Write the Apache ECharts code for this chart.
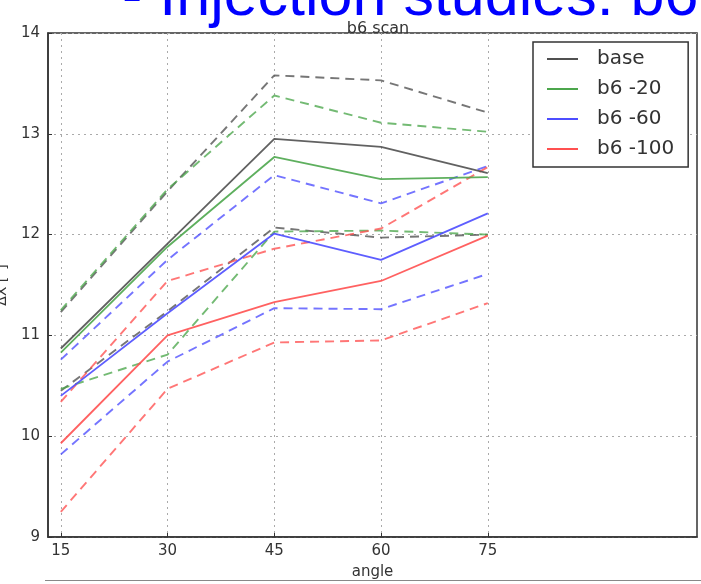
<!DOCTYPE html>
<html>
<head>
<meta charset="utf-8">
<script src="https://cdn.jsdelivr.net/npm/echarts@6/dist/echarts.min.js"></script>
<style>
html,body{margin:0;padding:0;background:#fff;}
#chart{width:701px;height:584px;}
</style>
</head>
<body>
<div id="chart"></div>
<script>
// ---- data ----
var angles = [15, 30, 45, 60, 75];
var xTicks = [15, 30, 45, 60, 75];
var yTicks = [9, 10, 11, 12, 13, 14];
var legendNames = ['base', 'b6 -20', 'b6 -60', 'b6 -100'];

var baseMid  = [10.87, 11.91, 12.95, 12.87, 12.61];
var baseHigh = [11.23, 12.43, 13.58, 13.53, 13.21];
var baseLow  = [10.45, 11.24, 12.07, 11.97, 12.00];

var b20Mid   = [10.83, 11.88, 12.77, 12.55, 12.57];
var b20High  = [11.25, 12.45, 13.38, 13.11, 13.02];
var b20Low   = [10.47, 10.81, 12.03, 12.04, 12.00];

var b60Mid   = [10.40, 11.22, 12.01, 11.75, 12.21];
var b60High  = [10.76, 11.75, 12.59, 12.31, 12.68];
var b60Low   = [9.82, 10.74, 11.27, 11.26, 11.61];

var b100Mid  = [9.93, 11.00, 11.33, 11.54, 11.99];
var b100High = [10.34, 11.54, 11.86, 12.06, 12.67];
var b100Low  = [9.25, 10.47, 10.93, 10.95, 11.32];

// ---- build ----
var colors = ['#505050', '#4ca64c', '#4d4dff', '#ff5050'];
var groups = [
  [baseMid, baseHigh, baseLow],
  [b20Mid, b20High, b20Low],
  [b60Mid, b60High, b60Low],
  [b100Mid, b100High, b100Low]
];
function pairs(vals){ return angles.map(function(a,i){ return [a, vals[i]]; }); }

var series = [];
groups.forEach(function(g, gi){
  series.push({
    name: legendNames[gi], type: 'line', data: pairs(g[0]),
    symbol: 'none', showSymbol: false, z: 3,
    lineStyle: {color: colors[gi], width: 1.8, opacity: 0.9},
    itemStyle: {color: colors[gi]}
  });
});
groups.forEach(function(g, gi){
  [1,2].forEach(function(k){
    series.push({
      name: legendNames[gi] + (k===1?' hi':' lo'), type: 'line', data: pairs(g[k]),
      symbol: 'none', showSymbol: false, z: 2,
      lineStyle: {color: colors[gi], width: 1.9, type: [9, 6], opacity: 0.78},
      itemStyle: {color: colors[gi]}
    });
  });
});

var chart = echarts.init(document.getElementById('chart'), null, {renderer: 'canvas'});
chart.setOption({
  animation: false,
  backgroundColor: '#ffffff',
  title: {
    text: 'b6 scan', left: 373, top: 16, textAlign: 'center',
    textStyle: {fontFamily: 'DejaVu Sans', fontSize: 16, fontWeight: 'normal', color: '#333'}
  },
  grid: {left: 48, top: 33, right: 4, bottom: 47, containLabel: false, outerBoundsMode: 'none',
         show: true, borderColor: '#333', borderWidth: 1.5, backgroundColor: 'transparent'},
  legend: {
    data: legendNames.map(function(n){ return {name: n, icon: 'rect'}; }),
    orient: 'vertical', left: 533, top: 42,
    padding: [7, 14, 8, 14], itemGap: 10, itemWidth: 31, itemHeight: 2,
    borderColor: '#333', borderWidth: 1.5, backgroundColor: '#fff',
    textStyle: {fontFamily: 'DejaVu Sans', fontSize: 20, color: '#333', lineHeight: 20, padding: [0, 0, 0, 14]}
  },
  xAxis: {
    type: 'value', min: 13.2, max: 104.4,
    name: 'angle', nameLocation: 'middle', nameGap: 28,
    nameTextStyle: {fontFamily: 'DejaVu Sans', fontSize: 15, color: '#333'},
    axisLine: {show: true, onZero: false, lineStyle: {color: '#333', width: 1.5}},
    axisTick: {show: true, inside: true, length: 4, customValues: xTicks, lineStyle: {color: '#333'}},
    axisLabel: {customValues: xTicks, fontFamily: 'DejaVu Sans', fontSize: 15, color: '#333', margin: 7},
    splitLine: {show: true, lineStyle: {color: '#aaa', type: [2, 4], width: 1}}
  },
  yAxis: {
    type: 'value', min: 9, max: 14, interval: 1,
    name: 'ΔX [°]', nameLocation: 'middle', nameGap: 39, nameRotate: 90,
    nameTextStyle: {fontFamily: 'DejaVu Sans', fontSize: 14, color: '#333'},
    axisLine: {show: true, lineStyle: {color: '#333', width: 1.5}},
    axisTick: {show: true, inside: true, length: 4, lineStyle: {color: '#333'}},
    axisLabel: {fontFamily: 'DejaVu Sans', fontSize: 15, color: '#333', margin: 8},
    splitLine: {show: true, lineStyle: {color: '#aaa', type: [2, 4], width: 1}}
  },
  graphic: [
    {type: 'text', left: 122, top: -32, z: 100,
     style: {text: '- Injection studies: b6', fontFamily: 'Liberation Sans', fontSize: 61, fill: '#0000ff'}},
    {type: 'line', z: 100, shape: {x1: 45, y1: 580.5, x2: 701, y2: 580.5}, style: {stroke: '#888', lineWidth: 1}}
  ],
  series: series
});
</script>
</body>
</html>
